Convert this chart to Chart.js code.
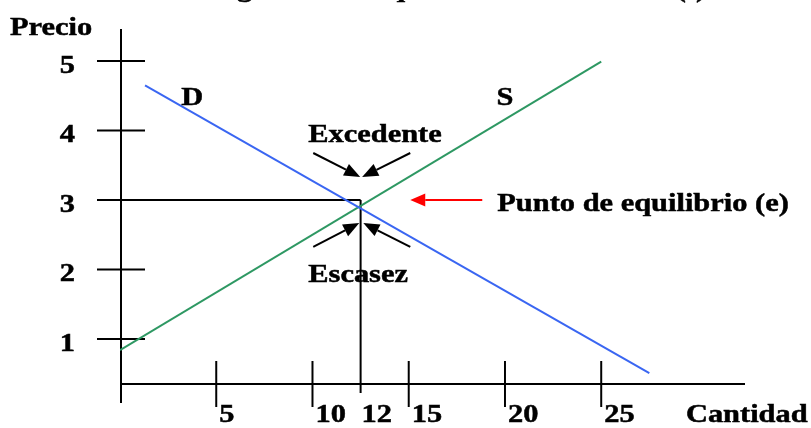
<!DOCTYPE html>
<html>
<head>
<meta charset="utf-8">
<script src="https://cdn.jsdelivr.net/npm/chart.js@4/dist/chart.umd.min.js"></script>
<style>
html,body{margin:0;padding:0;background:#fff;}
#wrap{width:811px;height:428px;}
</style>
</head>
<body>
<div id="wrap"><canvas id="c" width="811" height="428"></canvas></div>
<script>
// ---- data ----
const priceTicks = [1, 2, 3, 4, 5];
const priceTickLabels = ["1", "2", "3", "4", "5"];
const quantityTicks = [5, 10, 15, 20, 25];
const quantityTickLabels = ["5", "10", "15", "20", "25"];
const demandQ = [1.3, 27.5];
const demandP = [4.65, 0.51];
const supplyQ = [0, 25];
const supplyP = [0.84, 4.99];
const equilibriumQ = 12.5;
const equilibriumP = 3;
const equilibriumQLabel = "12";
const titleText = "Figura 3: El equilibrio del mercado (t)";
const yAxisTitle = "Precio";
const xAxisTitle = "Cantidad";
const demandLabel = "D";
const supplyLabel = "S";
const surplusLabel = "Excedente";
const shortageLabel = "Escasez";
const eqPointLabel = "Punto de equilibrio (e)";

const FONT = 'bold 26px "Liberation Serif", "Times New Roman", serif';
const SX = 1.17;

function txt(ctx, s, x, y, align) {
  ctx.save();
  ctx.translate(x, y);
  ctx.scale(SX, 1);
  ctx.font = FONT;
  ctx.fillStyle = '#000';
  ctx.strokeStyle = '#000';
  ctx.lineWidth = 0.5;
  ctx.textAlign = align || 'left';
  ctx.textBaseline = 'alphabetic';
  ctx.fillText(s, 0, 0);
  ctx.strokeText(s, 0, 0);
  ctx.restore();
}
function line(ctx, x1, y1, x2, y2, color, w) {
  ctx.save();
  ctx.strokeStyle = color; ctx.lineWidth = w;
  ctx.beginPath(); ctx.moveTo(x1, y1); ctx.lineTo(x2, y2); ctx.stroke();
  ctx.restore();
}
function arrow(ctx, x1, y1, x2, y2, color, w, hl, hw) {
  const a = Math.atan2(y2 - y1, x2 - x1);
  const bx = x2 - hl * Math.cos(a), by = y2 - hl * Math.sin(a);
  line(ctx, x1, y1, bx, by, color, w);
  ctx.save();
  ctx.fillStyle = color;
  ctx.beginPath();
  ctx.moveTo(x2, y2);
  ctx.lineTo(bx + hw / 2 * Math.sin(a), by - hw / 2 * Math.cos(a));
  ctx.lineTo(bx - hw / 2 * Math.sin(a), by + hw / 2 * Math.cos(a));
  ctx.closePath(); ctx.fill();
  ctx.restore();
}

const diagram = {
  id: 'diagram',
  beforeDatasetsDraw(chart) {
    const ctx = chart.ctx, xs = chart.scales.x, ys = chart.scales.y;
    const x0 = xs.getPixelForValue(0) + 1;
    const yAx = ys.bottom;
    // axes
    line(ctx, x0, ys.top, x0, yAx + 19, '#000', 2);
    line(ctx, x0, yAx, xs.right, yAx, '#000', 2);
    // price ticks
    priceTicks.forEach(v => {
      const py = ys.getPixelForValue(v);
      line(ctx, x0 - 24, py, x0 + 24, py, '#000', 2);
    });
    // quantity ticks
    quantityTicks.forEach(v => {
      const px = xs.getPixelForValue(v);
      line(ctx, px, yAx - 23, px, yAx + 23, '#000', 2);
    });
    // equilibrium guides
    const ex = xs.getPixelForValue(equilibriumQ), ey = ys.getPixelForValue(equilibriumP);
    line(ctx, x0, ey, ex, ey, '#000', 2);
    line(ctx, ex, ey, ex, yAx + 9, '#000', 2);
  },
  afterDraw(chart) {
    const ctx = chart.ctx, xs = chart.scales.x, ys = chart.scales.y;
    const X = v => xs.getPixelForValue(v), Y = v => ys.getPixelForValue(v);
    const yAx = ys.bottom;
    // tick labels
    priceTicks.forEach((v, i) => txt(ctx, priceTickLabels[i], X(0) - 45, Y(v) + 12, 'right'));
    quantityTicks.forEach((v, i) => txt(ctx, quantityTickLabels[i], X(v) + 3, yAx + 38, 'left'));
    txt(ctx, equilibriumQLabel, X(equilibriumQ) + 1, yAx + 38, 'left');
    // axis titles
    txt(ctx, yAxisTitle, 10, Y(5.46) + 6, 'left');
    txt(ctx, xAxisTitle, X(29.4), yAx + 38, 'left');
    // title (mostly cut off at the top)
    txt(ctx, titleText, 458, -3, 'center');
    // curve labels
    txt(ctx, demandLabel, X(3.75), Y(4.367), 'center');
    txt(ctx, supplyLabel, X(20.0), Y(4.367), 'center');
    txt(ctx, surplusLabel, X(9.78), Y(3.835), 'left');
    txt(ctx, shortageLabel, X(9.78), Y(1.82), 'left');
    txt(ctx, eqPointLabel, X(19.6), Y(2.842), 'left');
    // arrows
    arrow(ctx, X(10.04), Y(3.676), X(12.48), Y(3.331), '#000', 2, 16, 13);
    arrow(ctx, X(15.08), Y(3.676), X(12.58), Y(3.331), '#000', 2, 16, 13);
    arrow(ctx, X(10.04), Y(2.324), X(12.43), Y(2.669), '#000', 2, 16, 13);
    arrow(ctx, X(15.08), Y(2.324), X(12.64), Y(2.669), '#000', 2, 16, 13);
    arrow(ctx, X(18.82), Y(3), X(15.08), Y(3), '#ff0000', 2, 15, 13);
  }
};

const toPts = (qs, ps) => qs.map((q, i) => ({ x: q, y: ps[i] }));

new Chart(document.getElementById('c'), {
  type: 'scatter',
  data: {
    datasets: [
      { label: demandLabel, data: toPts(demandQ, demandP), showLine: true, borderColor: '#3a66f2', borderWidth: 2, pointRadius: 0, fill: false },
      { label: supplyLabel, data: toPts(supplyQ, supplyP), showLine: true, borderColor: '#2e9863', borderWidth: 2, pointRadius: 0, fill: false }
    ]
  },
  options: {
    responsive: false,
    animation: false,
    events: [],
    layout: { padding: { left: 120, right: 66, top: 29, bottom: 44 } },
    plugins: { legend: { display: false }, tooltip: { enabled: false }, title: { display: false } },
    scales: {
      x: { type: 'linear', display: false, min: 0, max: 32.47 },
      y: { type: 'linear', display: false, min: 0.3525, max: 5.46 }
    }
  },
  plugins: [diagram]
});
</script>
</body>
</html>
